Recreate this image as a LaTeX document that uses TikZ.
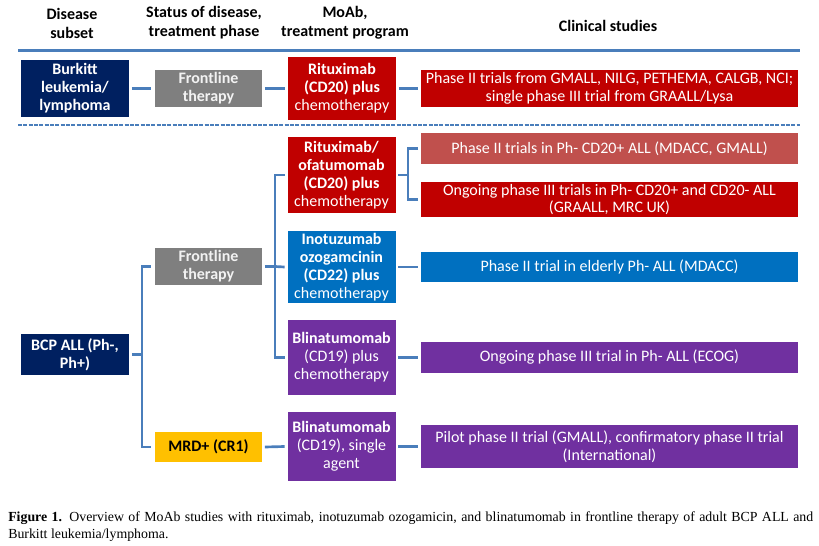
\documentclass[tikz,border=0pt]{standalone}
\usepackage{fontspec}
\setmainfont{Carlito}
\newfontfamily\capfont{Liberation Serif}
\definecolor{cNavy}{HTML}{002060}
\definecolor{cGray}{HTML}{7F7F7F}
\definecolor{cRed}{HTML}{C00000}
\definecolor{cLightRed}{HTML}{C0504D}
\definecolor{cBlue}{HTML}{0070C0}
\definecolor{cPurple}{HTML}{7030A0}
\definecolor{cYellow}{HTML}{FFC000}
\definecolor{cLine}{HTML}{4A7EBB}

\begin{document}
\begin{tikzpicture}[x=0.75pt,y=0.75pt,yscale=-1,xscale=1,
  box/.style={rectangle, inner sep=0pt, align=center, text=white, font=\fontsize{12}{13.4}\selectfont},
  subset/.style={box, fill=cNavy, minimum width=81pt, font=\bfseries\fontsize{12}{13.4}\selectfont},
  phase/.style={box, minimum width=80.25pt, font=\bfseries\fontsize{12}{13.4}\selectfont},
  moab/.style={box, minimum width=81pt},
  study/.style={box, minimum width=282.75pt},
  head/.style={align=center, inner sep=0pt, font=\bfseries\fontsize{12}{14.3}\selectfont},
  conn/.style={draw=cLine, line width=2pt}]
\path[use as bounding box] (0,0) rectangle (819,546);

% Text Node
\draw (72,23) node [head] (h1) {Disease\\subset};
% Text Node
\draw (204,23) node [head] (h2) {Status of disease,\\treatment phase};
% Text Node
\draw (345,23) node [head] (h3) {MoAb,\\treatment program};
% Text Node
\draw (608,26) node [head] (h4) {Clinical studies};

%Straight Lines
\draw [cLine, line width=2.25pt]   (18,50) -- (800,50) ;
%Straight Lines
\draw [cLine, line width=0.9pt, dash pattern=on 3pt off 1pt]   (18,125) -- (800,125) ;

% Burkitt row
\draw (75,88.5) node [subset, minimum height=42.75pt] (burkitt) {Burkitt\\leukemia/\\lymphoma};
\draw (208.5,88.5) node [phase, fill=cGray, text=white!95!black, minimum height=27.75pt] (front1) {Frontline\\therapy};
\draw (342,88.5) node [moab, fill=cRed, minimum height=47.25pt] (ritux) {\textbf{Rituximab}\\\textbf{(CD20) plus}\\chemotherapy};
\draw (609.5,88.5) node [study, fill=cRed, minimum height=27.75pt] (st1) {Phase II trials from GMALL, NILG, PETHEMA, CALGB, NCI;\\single phase III trial from GRAALL/Lysa};

% BCP ALL rows
\draw (75,354.5) node [subset, minimum height=30.75pt] (bcp) {BCP ALL (Ph-,\\Ph+)};
\draw (208.5,266.5) node [phase, fill=cGray, text=white!95!black, minimum height=27.75pt] (front2) {Frontline\\therapy};
\draw (208.5,447) node [phase, fill=cYellow, text=black, minimum height=22.5pt] (mrd) {MRD+ (CR1)};

\draw (341.5,175) node [moab, fill=cRed, minimum height=57pt] (rituxofa) {\textbf{Rituximab/}\\\textbf{ofatumomab}\\\textbf{(CD20) plus}\\chemotherapy};
\draw (341.5,267) node [moab, fill=cBlue, minimum height=54pt] (inotu) {\textbf{Inotuzumab}\\\textbf{ozogamcinin}\\\textbf{(CD22) plus}\\chemotherapy};
\draw (341.5,357.5) node [moab, fill=cPurple, minimum height=56.25pt] (blina) {\textbf{Blinatumomab}\\(CD19) plus\\chemotherapy};
\draw (341.5,446.5) node [moab, fill=cPurple, minimum height=51.75pt] (blinasa) {\textbf{Blinatumomab}\\(CD19), single\\agent};

\draw (609.5,148.5) node [study, fill=cLightRed, minimum height=23.25pt] (st2) {Phase II trials in Ph- CD20+ ALL (MDACC, GMALL)};
\draw (609.5,199.5) node [study, fill=cRed, minimum height=26.25pt] (st3) {Ongoing phase III trials in Ph- CD20+ and CD20- ALL\\(GRAALL, MRC UK)};
\draw (609.5,267) node [study, fill=cBlue, minimum height=22.5pt] (st4) {Phase II trial in elderly Ph- ALL (MDACC)};
\draw (609.5,357.5) node [study, fill=cPurple, minimum height=23.25pt] (st5) {Ongoing phase III trial in Ph- ALL (ECOG)};
\draw (609.5,446.5) node [study, fill=cPurple, minimum height=32.25pt] (st6) {Pilot phase II trial (GMALL), confirmatory phase II trial\\(International)};

% Connectors
\coordinate (jA) at (142,354.5);
\coordinate (jB) at (275,266.5);
\coordinate (jC) at (408,175);
\draw [conn] ([xshift=2pt]burkitt.east) -- ([xshift=-3pt]front1.west) ;
\draw [conn] ([xshift=2pt]front1.east) -- ([xshift=-2pt]ritux.west) ;
\draw [conn] ([xshift=2pt]ritux.east) -- ([xshift=-2pt]st1.west) ;
\draw [conn] ([xshift=2pt]bcp.east) -- (jA) ;
\draw [conn] ([xshift=-3pt]front2.west) -| (jA) |- ([xshift=-3pt]mrd.west) ;
\draw [conn] ([xshift=2pt]front2.east) -- (jB) ;
\draw [conn] ([xshift=-2pt]rituxofa.west) -| (jB) |- ([xshift=-2pt]blina.west) ;
\draw [conn] (jB) -- ([xshift=-2pt]inotu.west) ;
\draw [conn] ([xshift=2pt]rituxofa.east) -- (jC) ;
\draw [conn] ([xshift=-2pt]st2.west) -| (jC) |- ([xshift=-2pt]st3.west) ;
\draw [conn] ([xshift=2pt]inotu.east) -- ([xshift=-2pt]st4.west) ;
\draw [conn] ([xshift=2pt]blina.east) -- ([xshift=-2pt]st5.west) ;
\draw [conn] ([xshift=2pt]mrd.east) -- ([xshift=-2pt]blinasa.west) ;
\draw [conn] ([xshift=2pt]blinasa.east) -- ([xshift=-2pt]st6.west) ;

% Text Node
\draw (8,511) node [anchor=north west, inner sep=0pt, text width=603.75pt, align=justify, font=\capfont\fontsize{10.4}{12.75}\selectfont] (caption) {\textbf{Figure 1.} Overview of MoAb studies with rituximab, inotuzumab ozogamicin, and blinatumomab in frontline therapy of adult BCP ALL and\linebreak Burkitt leukemia/lymphoma.};
\end{tikzpicture}
\end{document}
